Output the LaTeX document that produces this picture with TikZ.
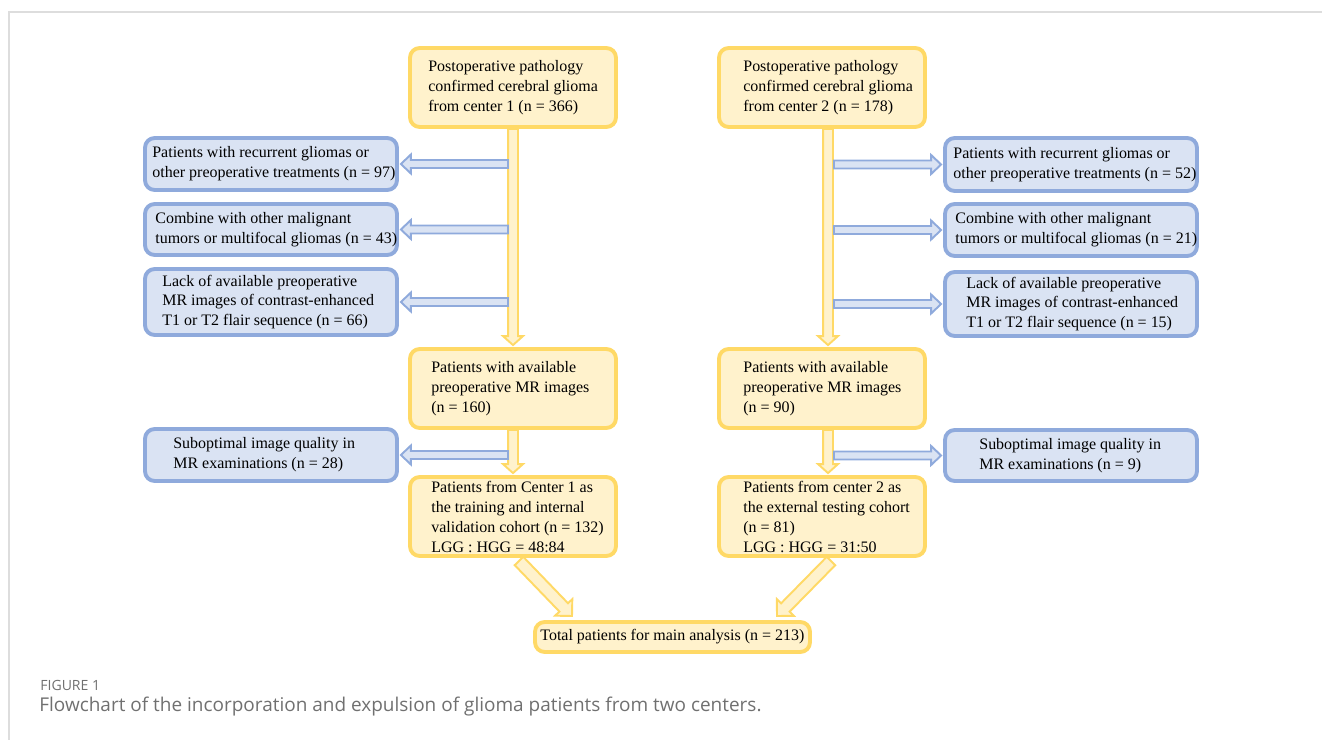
\documentclass[tikz,border=0pt]{standalone}
\usepackage{fontspec}
\setmainfont{Liberation Serif}
\newfontfamily\capfont{Open Sans}
\usetikzlibrary{calc}
\definecolor{yline}{HTML}{FFD966}
\definecolor{yfill}{HTML}{FFF2CC}
\definecolor{bline}{HTML}{8FAADC}
\definecolor{bfill}{HTML}{DAE3F3}
\definecolor{framegray}{HTML}{DDDDDD}
\definecolor{capgray}{HTML}{707070}
\pgfdeclarelayer{bg}
\pgfsetlayers{bg,main}
% #1 style, #2 from, #3 to, #4 shaft half width, #5 head half width, #6 head length
\newcommand\blockarrow[6]{%
  \coordinate (ba-h) at ($(#3)!#6!(#2)$);
  \draw[#1] ($(#2)!#4!90:(#3)$) -- ($(ba-h)!#4!-90:(#2)$) -- ($(ba-h)!#5!-90:(#2)$) -- (#3)
    -- ($(ba-h)!#5!90:(#2)$) -- ($(ba-h)!#4!90:(#2)$) -- ($(#2)!#4!-90:(#3)$) -- cycle;}
\tikzset{
  ybox/.style={draw=yline, fill=yfill, line width=2.2pt, rounded corners=5.5pt, inner sep=0pt, minimum width=4.12cm, minimum height=1.58cm},
  bbox/.style={draw=bline, fill=bfill, line width=2.2pt, rounded corners=5.5pt, inner sep=0pt, minimum width=5.04cm},
  txt/.style={anchor=west, align=left, inner sep=0pt, font=\fontsize{9.1}{11.3}\selectfont},
  yarrow/.style={draw=yline, fill=yfill, line width=1.1pt, line join=miter},
  barrow/.style={draw=bline, fill=bfill, line width=1.1pt, line join=miter},
}
\begin{document}
\begin{tikzpicture}[x=0.02cm, y=-0.02cm]
\useasboundingbox (0,0) rectangle (1322,740);
\draw[framegray, line width=1pt] (9,740) -- (9,12) -- (1322,12);

% yellow boxes
\node[ybox] (L1) at (513,87.5) {};
\node[ybox] (R1) at (822,87.5) {};
\node[ybox] (L2) at (513,388.5) {};
\node[ybox] (R2) at (822,388.5) {};
\node[ybox] (L3) at (513,516.5) {};
\node[ybox] (R3) at (822,516.5) {};
\node[ybox, minimum width=5.5cm, minimum height=0.6cm] (T) at (672.5,637) {};
% blue boxes
\node[bbox, minimum height=1.04cm] (BL1) at (271,164) {};
\node[bbox, minimum height=1.02cm] (BL2) at (271,229.5) {};
\node[bbox, minimum height=1.32cm] (BL3) at (271,302) {};
\node[bbox, minimum height=1.04cm] (BL4) at (271,455) {};
\node[bbox, minimum height=1.06cm] (BR1) at (1071,164.5) {};
\node[bbox, minimum height=1.04cm] (BR2) at (1071,230) {};
\node[bbox, minimum height=1.28cm] (BR3) at (1071,304) {};
\node[bbox, minimum height=1.02cm] (BR4) at (1071,455.5) {};

% texts
\node[txt] (tL1) at (428,88) {Postoperative pathology\\confirmed cerebral glioma\\from center 1 (n = 366)};
\node[txt] (tR1) at (743,88) {Postoperative pathology\\confirmed cerebral glioma\\from center 2 (n = 178)};
\node[txt] (tL2) at (431,389) {Patients with available\\preoperative MR images\\(n = 160)};
\node[txt] (tR2) at (743,389) {Patients with available\\preoperative MR images\\(n = 90)};
\node[txt] (tL3) at (431,517) {Patients from Center 1 as\\the training and internal\\validation cohort (n = 132)\\LGG : HGG = 48:84};
\node[txt] (tR3) at (743,517) {Patients from center 2 as\\the external testing cohort\\(n = 81)\\LGG : HGG = 31:50};
\node[txt] (tT) at (540,637) {Total patients for main analysis (n = 213)};
\node[txt] (tBL1) at (152,164) {Patients with recurrent gliomas or\\other preoperative treatments (n = 97)};
\node[txt] (tBL2) at (155,229.5) {Combine with other malignant\\tumors or multifocal gliomas (n = 43)};
\node[txt] (tBL3) at (162,302) {Lack of available preoperative\\MR images of contrast-enhanced\\T1 or T2 flair sequence (n = 66)};
\node[txt] (tBL4) at (173,455) {Suboptimal image quality in\\MR examinations (n = 28)};
\node[txt] (tBR1) at (953,164.5) {Patients with recurrent gliomas or\\other preoperative treatments (n = 52)};
\node[txt] (tBR2) at (955,230) {Combine with other malignant\\tumors or multifocal gliomas (n = 21)};
\node[txt] (tBR3) at (966,304) {Lack of available preoperative\\MR images of contrast-enhanced\\T1 or T2 flair sequence (n = 15)};
\node[txt] (tBR4) at (979,455.5) {Suboptimal image quality in\\MR examinations (n = 9)};

% caption
\node[anchor=west, inner sep=0pt, font=\capfont\fontsize{8}{9}\selectfont, text=capgray] (fig) at (40,685) {FIGURE 1};
\node[anchor=west, inner sep=0pt, font=\capfont\fontsize{10.8}{13}\selectfont, text=capgray] (cap) at (39,707) {Flowchart of the incorporation and expulsion of glioma patients from two centers.};

% connector end points
\coordinate (vL1a) at (L1.south);
\coordinate (vL1b) at ($(L2.north)+(0,-2)$);
\coordinate (vL2a) at (L2.south);
\coordinate (vL2b) at ($(L3.north)+(0,-2)$);
\coordinate (vR1a) at ($(R1.south)+(6,0)$);
\coordinate (vR1b) at ($(R2.north)+(6,-2)$);
\coordinate (vR2a) at ($(R2.south)+(6,0)$);
\coordinate (vR2b) at ($(R3.north)+(6,-2)$);
\foreach \b in {BL1,BL2,BL3,BL4} {
  \coordinate (s\b) at ($(\b.east -| L1.south)+(-5,0)$);
  \coordinate (e\b) at ($(\b.east)+(2,0)$);
}
\foreach \b in {BR1,BR2,BR3,BR4} {
  \coordinate (s\b) at ($(\b.west -| R1.south)+(12,0)$);
  \coordinate (e\b) at ($(\b.west)+(-2,0)$);
}
\coordinate (dLa) at (519,561);
\coordinate (dLb) at (572,616);
\coordinate (dRa) at (831,561);
\coordinate (dRb) at (777,616);

\begin{pgfonlayer}{bg}
\blockarrow{yarrow}{vL1a}{vL1b}{2.83pt}{5.67pt}{5.1pt}
\blockarrow{yarrow}{vL2a}{vL2b}{2.83pt}{5.67pt}{5.1pt}
\blockarrow{yarrow}{vR1a}{vR1b}{2.83pt}{5.67pt}{5.1pt}
\blockarrow{yarrow}{vR2a}{vR2b}{2.83pt}{5.67pt}{5.1pt}
\foreach \b in {BL1,BL2,BL3,BL4,BR1,BR2,BR3,BR4} {
  \blockarrow{barrow}{s\b}{e\b}{2.27pt}{5.4pt}{5.67pt}
}
\blockarrow{yarrow}{dLa}{dLb}{3.4pt}{6.8pt}{6.8pt}
\blockarrow{yarrow}{dRa}{dRb}{3.4pt}{6.8pt}{6.8pt}
\end{pgfonlayer}
\end{tikzpicture}
\end{document}
